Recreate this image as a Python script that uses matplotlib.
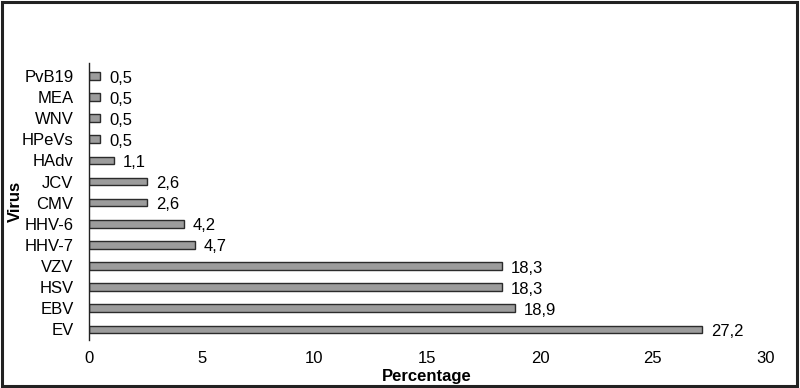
import matplotlib

matplotlib.use("Agg")
import matplotlib.pyplot as plt
from matplotlib.patches import Rectangle

viruses = ["EV", "EBV", "HSV", "VZV", "HHV-7", "HHV-6", "CMV", "JCV",
           "HAdv", "HPeVs", "WNV", "MEA", "PvB19"]
percentages = [27.2, 18.9, 18.3, 18.3, 4.7, 4.2, 2.6, 2.6, 1.1, 0.5, 0.5, 0.5, 0.5]
x_ticks = [0, 5, 10, 15, 20, 25, 30]

plt.rcParams.update({"font.family": ["Liberation Sans", "DejaVu Sans"], "font.size": 12})

fig = plt.figure(figsize=(8, 3.88), dpi=100)
ax = fig.add_axes([0.111, 0.124, 0.846, 0.714])

ypos = list(range(len(viruses)))
ax.barh(ypos, percentages, height=0.36, color="#9c9c9c", edgecolor="#2b2b2b", linewidth=1.0)

for y, v in zip(ypos, percentages):
    ax.annotate(f"{v:.1f}".replace(".", ","), (v, y), xytext=(6.5, -1.5),
                textcoords="offset points", ha="left", va="center", fontsize=12)

ax.set_xlim(0, 30)
ax.set_ylim(-0.5, 12.62)
ax.set_xticks(x_ticks)
ax.set_yticks(ypos)
ax.set_yticklabels(viruses)
ax.tick_params(axis="x", length=0, pad=8, labelsize=12)
ax.tick_params(axis="y", length=0, pad=11, labelsize=12)

for side in ["top", "right", "bottom"]:
    ax.spines[side].set_visible(False)
ax.spines["left"].set_color("#222222")
ax.spines["left"].set_linewidth(1.0)

ax.set_xlabel("Percentage", fontweight="bold", fontsize=12, labelpad=0)
ax.xaxis.set_label_coords(0.5, -0.105)
ax.set_ylabel("Virus", fontweight="bold", fontsize=12)
ax.yaxis.set_label_coords(-0.098, 0.5)

fig.add_artist(Rectangle((0.002, 0.004), 0.994, 0.992, transform=fig.transFigure,
                         fill=False, edgecolor="#222222", linewidth=2.2))

fig.savefig("out.png", dpi=100)
